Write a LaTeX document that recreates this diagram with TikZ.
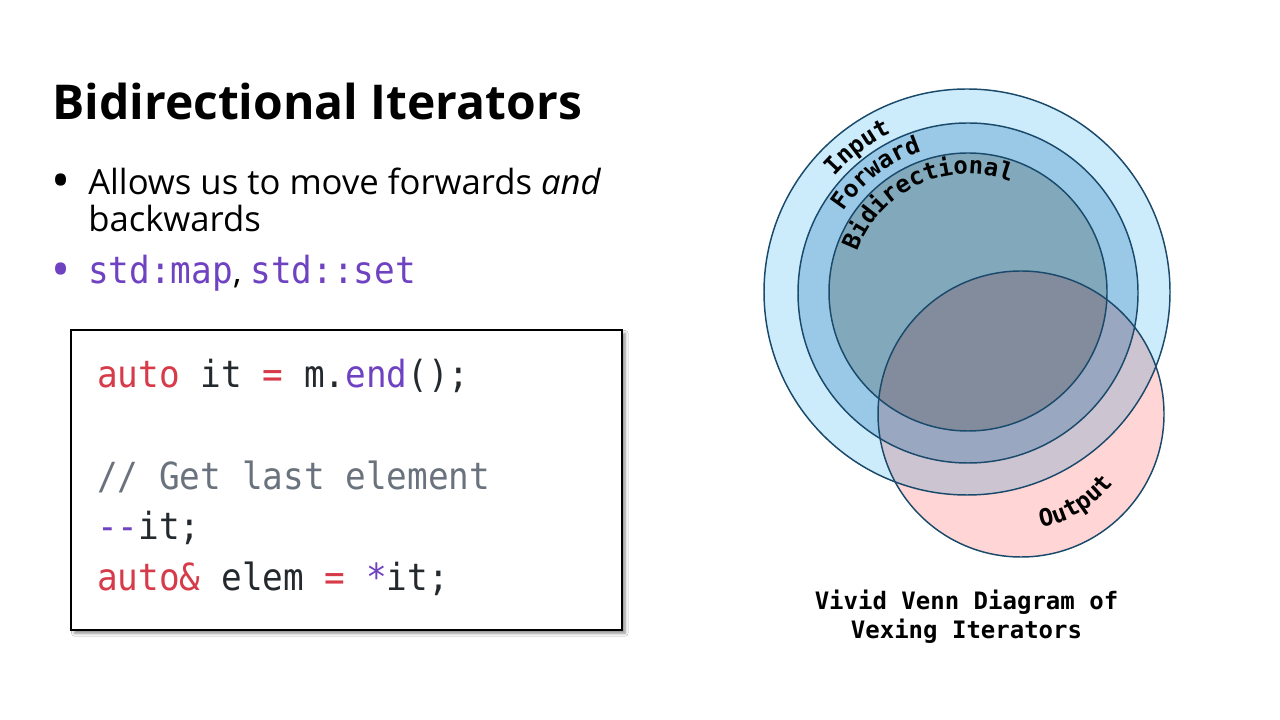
\documentclass[tikz,border=0pt]{standalone}
\usepackage{fontspec}
\setmainfont{Open Sans}
\newfontfamily\codefont{DejaVu Sans Mono}[FakeStretch=0.92]
\newfontfamily\labelfont{DejaVu Sans Mono}
\usetikzlibrary{positioning, shadows.blur, decorations.text}

\definecolor{keyred}{HTML}{D73A49}
\definecolor{funpurple}{HTML}{6F42C1}
\definecolor{commentgray}{HTML}{6A737D}
\definecolor{codeink}{HTML}{24292E}
\definecolor{inputblue}{HTML}{CCEBFB}
\definecolor{forwardblue}{HTML}{99C9E6}
\definecolor{bidirblue}{HTML}{82A8BB}
\definecolor{outputpink}{HTML}{FFD5D5}
\definecolor{vennline}{HTML}{1A4A6B}

\newcommand\vennlabel{\labelfont\bfseries\fontsize{18}{22}\selectfont}

\begin{document}
\begin{tikzpicture}[
    x=0.75pt, y=0.75pt,
    title/.style={anchor=base west, inner sep=0pt, font=\bfseries\fontsize{36}{43}\selectfont},
    bullettext/.style={anchor=base west, inner sep=0pt, font=\fontsize{26}{32}\selectfont},
    dot/.style={anchor=base, inner sep=0pt, font=\fontsize{38}{44}\selectfont},
    codebox/.style={rectangle, draw=black, line width=1.5pt, fill=white, minimum width=413pt, minimum height=225pt,
        blur shadow={shadow xshift=2.5pt, shadow yshift=-2.5pt, shadow blur steps=6, shadow opacity=45}},
    codeline/.style={anchor=base west, inner sep=0pt, text=codeink, font=\codefont\fontsize{28}{34}\selectfont},
    venn/.style={draw=vennline, line width=1.1pt},
    caption/.style={anchor=base, inner sep=0pt, font=\labelfont\bfseries\fontsize{18}{22}\selectfont},
]

% slide
\useasboundingbox[fill=white] (0,0) rectangle (1280,720);

% Title and bullets
\node[title] (title) at (52,600) {Bidirectional Iterators};
\node[dot] (dot1) at (61,521) {\textbullet};
\node[bullettext] (point1) at (88,525) {Allows us to move forwards \textit{and}};
\node[bullettext] (point1b) at (88,488) {backwards};
\node[dot, text=funpurple] (dot2) at (61,432) {\textbullet};
\node[bullettext] (point2) at (88,436) {\textcolor{funpurple}{\codefont\fontsize{28}{34}\selectfont std:map}, \textcolor{funpurple}{\codefont\fontsize{28}{34}\selectfont std::set}};

% Code sample
\node[codebox] (codebox) at (346.5,240) {};
\node[codeline] (line1) at (97,332) {\textcolor{keyred}{auto} it \textcolor{keyred}{=} m.\textcolor{funpurple}{end}();};
\node[codeline] (line3) at (97,230) {\textcolor{commentgray}{// Get last element}};
\node[codeline] (line4) at (97,180) {\textcolor{funpurple}{-{}-}it;};
\node[codeline] (line5) at (97,129) {\textcolor{keyred}{auto\&} elem \textcolor{keyred}{=} \textcolor{funpurple}{*}it;};

% Venn diagram
\coordinate (inputc) at (967,428);
\coordinate (forwardc) at (968,427);
\coordinate (bidirc) at (968,428);
\coordinate (outputc) at (1021,306);

\fill[inputblue] (inputc) circle[radius=203];
\fill[forwardblue] (forwardc) circle[radius=170];
\fill[bidirblue] (bidirc) circle[radius=139];
\begin{scope}[blend mode=multiply]
\fill[outputpink] (outputc) circle[radius=143];
\end{scope}
\draw[venn] (inputc) circle[radius=203];
\draw[venn] (forwardc) circle[radius=170];
\draw[venn] (bidirc) circle[radius=139];
\draw[venn] (outputc) circle[radius=143];

% curved labels
\path[decorate, decoration={text along path, text align=left, text={|\vennlabel|Input}}]
  (inputc) ++(139:176) arc[start angle=139, end angle=40, radius=176];
\path[decorate, decoration={text along path, text align=left, text={|\vennlabel|Forward}}]
  (forwardc) ++(147:149) arc[start angle=147, end angle=40, radius=149];
\path[decorate, decoration={text along path, text align=left, text={|\vennlabel|Bidirectional}}]
  (bidirc) ++(160:118) arc[start angle=160, end angle=20, radius=118];
\path[decorate, decoration={text along path, text align=left, text={|\vennlabel|Output}}]
  (outputc) ++(-80:115) arc[start angle=-80, end angle=0, radius=115];

% caption
\node[caption] (caption1) at (966.5,110) {Vivid Venn Diagram of};
\node[caption] (caption2) at (966.5,81) {Vexing Iterators};

\end{tikzpicture}
\end{document}
